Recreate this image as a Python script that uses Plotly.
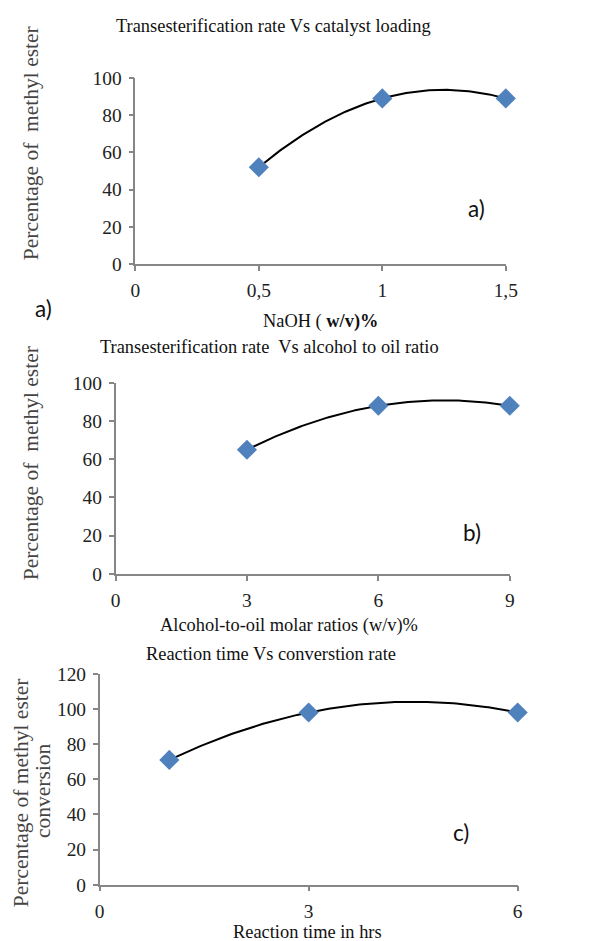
import numpy as np
import plotly.graph_objects as go

# ---- data ----
naoh_x = [0.5, 1.0, 1.5]
naoh_y = [52, 89, 89]
naoh_ticks = [0, 0.5, 1, 1.5]
naoh_ticklabels = ["0", "0,5", "1", "1,5"]

ratio_x = [3, 6, 9]
ratio_y = [65, 88, 88]
ratio_ticks = [0, 3, 6, 9]
ratio_ticklabels = ["0", "3", "6", "9"]

time_x = [1, 3, 6]
time_y = [71, 98, 98]
time_ticks = [0, 3, 6]
time_ticklabels = ["0", "3", "6"]

W, H = 601, 941
SERIF = "Liberation Serif"
SANS = "Lato"
AXC = "#868686"
MARK = "#4F81BD"

# layout placement (target pixel positions, corrected for the page offset)
SX, OX = 0.981, 9.5
SY, OY = 0.978, 17.0


def px(x, y):
    fx = (x - OX) / SX
    fy = (y - OY) / SY
    return fx / W, 1 - fy / H


def fs(s):
    return round(s / SY, 1)


fig = go.Figure()

panels = [
    # (xs, ys, ticks, ticklabels, xrange, yrange, ydtick, xdom px, ydom px)
    (naoh_x, naoh_y, naoh_ticks, naoh_ticklabels, [0, 1.5], [0, 100], 20, (133, 507), (77, 263)),
    (ratio_x, ratio_y, ratio_ticks, ratio_ticklabels, [0, 9], [0, 100], 20, (113, 511), (382, 573)),
    (time_x, time_y, time_ticks, time_ticklabels, [0, 6], [0, 120], 20, (97, 519), (673, 884)),
]

for i, (xs, ys, tv, tt, xr, yr, dt, xd, yd) in enumerate(panels):
    n = "" if i == 0 else str(i + 1)
    xa, ya = "x" + n, "y" + n
    # polynomial (order 2) trendline, as in the original spreadsheet chart
    coef = np.polyfit(xs, ys, 2)
    xx = np.linspace(min(xs), max(xs), 120)
    fig.add_trace(go.Scatter(x=xx, y=np.polyval(coef, xx), mode="lines",
                             line=dict(color="black", width=2), xaxis=xa, yaxis=ya,
                             showlegend=False, hoverinfo="skip", cliponaxis=False))
    fig.add_trace(go.Scatter(x=xs, y=ys, mode="markers",
                             marker=dict(symbol="diamond", size=15.5, color=MARK),
                             xaxis=xa, yaxis=ya, showlegend=False, cliponaxis=False))
    x0, y0 = px(xd[0], yd[1])
    x1, y1 = px(xd[1], yd[0])
    fig.layout["xaxis" + n] = dict(domain=[x0, x1], range=xr, tickvals=tv, ticktext=tt,
                                   showline=True, linecolor=AXC, linewidth=1.5,
                                   ticks="outside", ticklen=5, tickcolor=AXC, tickwidth=1.5,
                                   showgrid=False, zeroline=False, anchor=ya,
                                   ticklabelstandoff=3,
                                   tickfont=dict(family=SERIF, size=fs(19), color="#222"))
    fig.layout["yaxis" + n] = dict(domain=[y0, y1], range=yr, dtick=dt,
                                   showline=True, linecolor=AXC, linewidth=1.5,
                                   ticks="outside", ticklen=5, tickcolor=AXC, tickwidth=1.5,
                                   showgrid=False, zeroline=False, anchor=xa,
                                   ticklabelstandoff=3,
                                   tickfont=dict(family=SERIF, size=fs(19), color="#222"))

anns = []


def text(x, y, s, size=18, family=SERIF, color="#111", angle=0):
    ax, ay = px(x, y)
    anns.append(dict(x=ax, y=ay, xref="paper", yref="paper", text=s, showarrow=False,
                     xanchor="center", yanchor="middle", textangle=angle,
                     font=dict(family=family, size=fs(size), color=color)))


# titles
text(272, 25, "Transesterification rate Vs catalyst loading", 18)
text(268, 346, "Transesterification rate  Vs alcohol to oil ratio", 18)
text(270, 653, "Reaction time Vs converstion rate", 18)
# x-axis titles
text(320, 321, "NaOH ( <b>w/v)%</b>", 18)
text(288, 625, "Alcohol-to-oil molar ratios (w/v)%", 18)
text(307, 931, "Reaction time in hrs", 18)
# y-axis titles
text(28, 142, "Percentage of  methyl ester", 21, color="#444", angle=-90)
text(28, 462, "Percentage of  methyl ester", 21, color="#444", angle=-90)
text(17, 792, "Percentage of methyl ester", 21, color="#444", angle=-90)
text(40, 790, "conversion", 21, color="#444", angle=-90)
# panel letters
text(477, 208, "a)", 22, SANS, "#111")
text(40, 308, "a)", 22, SANS, "#111")
text(473, 532, "b)", 22, SANS, "#111")
text(462, 832, "c)", 22, SANS, "#111")

fig.update_layout(width=W, height=H, margin=dict(l=0, r=0, t=0, b=0),
                  plot_bgcolor="white", paper_bgcolor="white", annotations=anns)

fig.write_html("out.html")
